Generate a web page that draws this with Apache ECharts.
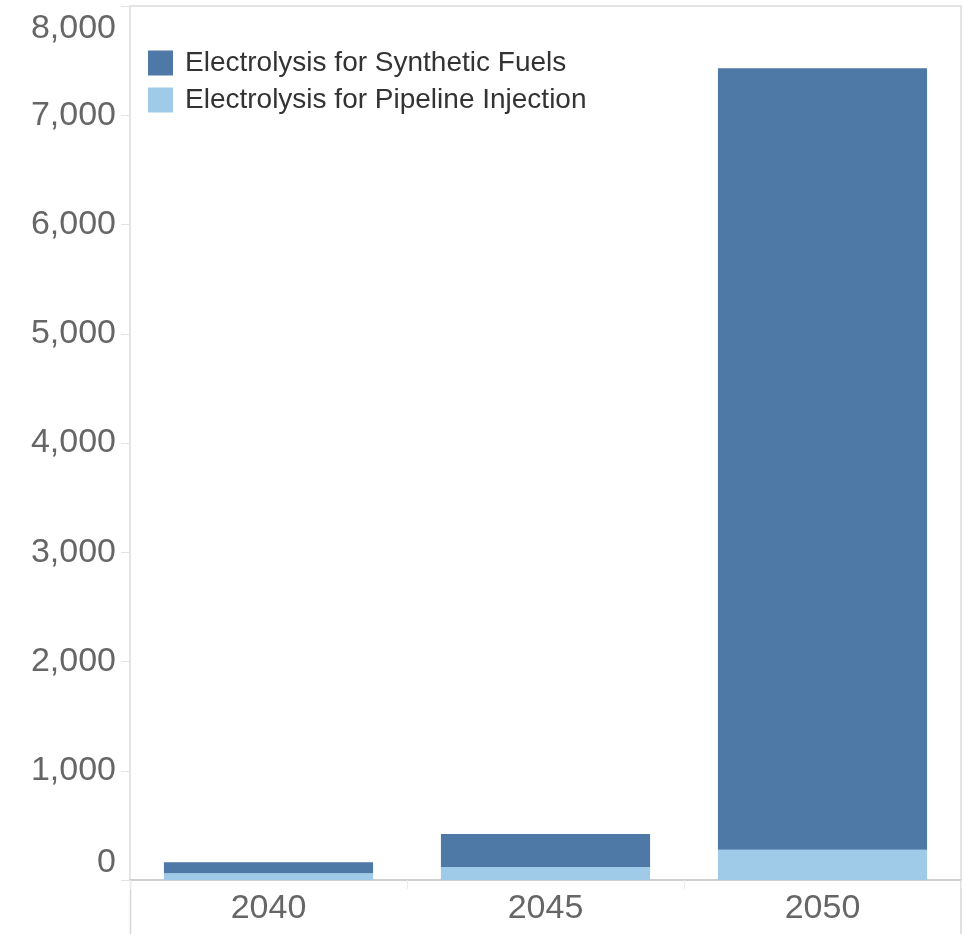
<!DOCTYPE html>
<html>
<head>
<meta charset="utf-8">
<script src="https://cdn.jsdelivr.net/npm/echarts@6/dist/echarts.min.js"></script>
<style>
html,body{margin:0;padding:0;background:#fff;}
#chart{width:965px;height:934px;}
</style>
</head>
<body>
<div id="chart"></div>
<script>
const categories = ['2040', '2045', '2050'];
const syntheticFuels = [100, 302, 7155];
const pipelineInjection = [62, 119, 276];
const seriesNames = ['Electrolysis for Synthetic Fuels', 'Electrolysis for Pipeline Injection'];
const yTicks = { min: 0, max: 8000, interval: 1000 };

const chart = echarts.init(document.getElementById('chart'), null, { renderer: 'canvas' });
const font = '"Liberation Sans", Arial, sans-serif';
chart.setOption({
  animation: false,
  backgroundColor: '#fff',
  grid: { left: 130, right: 4, top: 6, bottom: 54, show: true, borderColor: '#dcdcdc', borderWidth: 1.5, containLabel: false },
  legend: {
    data: seriesNames,
    orient: 'vertical',
    left: 148, top: 49,
    itemWidth: 25, itemHeight: 25, itemGap: 9,
    icon: 'rect',
    textStyle: { fontFamily: font, fontSize: 28, color: '#333', padding: [2, 0, 0, 7] },
    padding: 0
  },
  xAxis: {
    type: 'category',
    data: categories,
    axisLine: { show: true, lineStyle: { color: '#cfcfcf', width: 2 } },
    axisTick: { show: true, length: 9, lineStyle: { color: '#ececec', width: 1 }, alignWithLabel: false },
    axisLabel: { fontFamily: font, fontSize: 34, color: '#666', margin: 12 },
    splitLine: { show: false }
  },
  yAxis: {
    type: 'value',
    min: yTicks.min, max: yTicks.max, interval: yTicks.interval,
    axisLine: { show: false },
    axisTick: { show: true, length: 9, lineStyle: { color: '#e4e4e4' } },
    splitLine: { show: false },
    axisLabel: {
      fontFamily: font, fontSize: 34, color: '#666', margin: 14,
      padding: [6, 0, 0, 0],
      verticalAlignMinLabel: 'bottom', verticalAlignMaxLabel: 'top',
      formatter: v => v.toLocaleString('en-US')
    }
  },
  series: [
    {
      name: seriesNames[1], type: 'bar', stack: 'total',
      data: pipelineInjection,
      itemStyle: { color: '#a0cbe8' },
      barCategoryGap: '24.5%'
    },
    {
      name: seriesNames[0], type: 'bar', stack: 'total',
      data: syntheticFuels,
      itemStyle: { color: '#4e79a7' },
      barCategoryGap: '24.5%'
    }
  ],
  graphic: [
    { type: 'line', shape: { x1: 130.5, y1: 880, x2: 130.5, y2: 934 }, style: { stroke: '#d6d6d6', lineWidth: 1.5 } },
    { type: 'line', shape: { x1: 961, y1: 880, x2: 961, y2: 934 }, style: { stroke: '#d6d6d6', lineWidth: 1.5 } }
  ]
});
</script>
</body>
</html>
